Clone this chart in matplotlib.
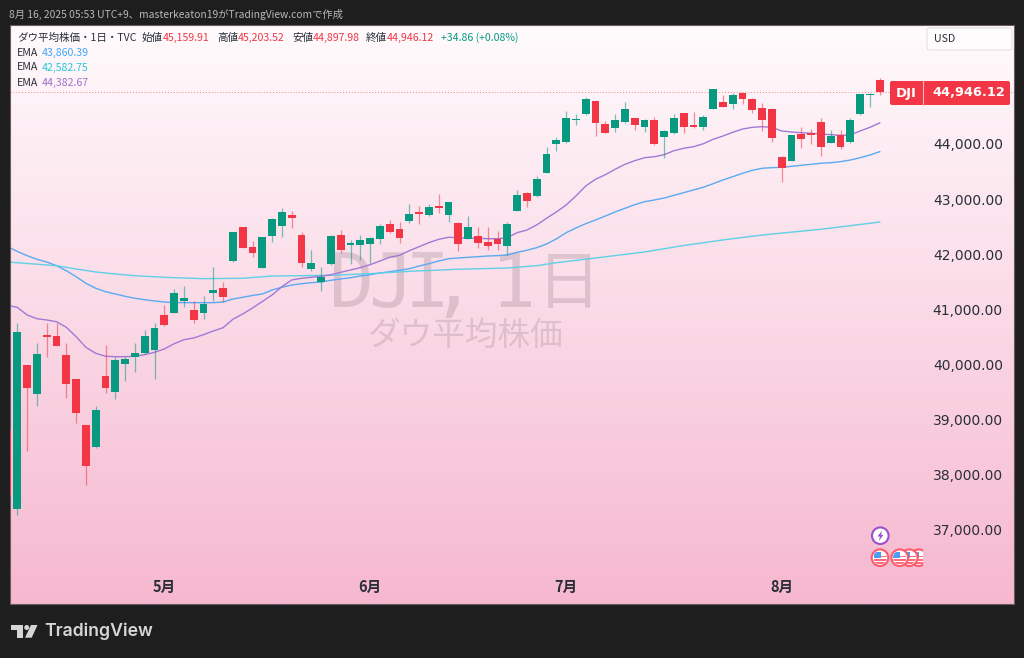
import numpy as np
import matplotlib
matplotlib.use('Agg')
import matplotlib.pyplot as plt
from matplotlib.colors import LinearSegmentedColormap
from matplotlib.patches import Circle, Rectangle, Polygon, FancyBboxPatch

plt.rcParams['font.family'] = ['Noto Sans CJK JP', 'DejaVu Sans']

# daily candles, DJI, Apr 8 - Aug 15 2025
opens = [38806,37366,39987,39460,40526,40508,40163,39727,38892,38492,
         39787,39502,40010,40137,40199,40259,40895,40931,41143,40985,
         40931,41289,41385,41870,42493,42135,41754,42329,42511,42711,
         42342,41735,41494,41815,42342,42166,42166,42184,42280,42553,
         42462,42602,42760,42716,42869,42705,42560,42280,42335,42220,
         42275,42153,42783,43110,43056,43479,43995,44031,44430,44545,
         44786,44363,44296,44405,44467,44314,44436,44122,44194,44558,
         44345,44303,44636,44757,44726,44926,44812,44659,44641,43769,
         43697,44182,44194,44405,44018,44163,44031,44545,44884,45159.91]
highs = [38897,40755,39995,40381,40755,40755,40392,39735,38900,39248,
         40355,40137,40137,40392,40617,40755,41076,41361,41421,41143,
         41245,41761,41488,42410,42500,42238,42320,42650,42832,42778,
         42407,42075,41772,42340,42433,42257,42347,42317,42547,42620,
         42584,42910,42880,42910,43097,42950,42578,42687,42498,42498,
         42420,42589,43165,43120,43413,43951,44122,44599,44545,44859,
         44800,44423,44545,44757,44475,44449,44485,44254,44545,44570,
         44576,44527,45000,44890,44921,44932,44830,44739,44650,43782,
         44165,44303,44267,44478,44254,44254,44467,44915,44921,45203.52]
lows = [37590,37263,38425,39248,40137,40330,39382,38928,37807,38485,
        39473,39364,39702,39854,40190,39732,40695,40925,41045,40749,
        40817,41154,41136,41860,42105,41942,41745,42215,42317,42469,
        41772,41699,41336,41805,42015,41815,41893,41834,42179,42390,
        42197,42565,42553,42698,42742,42584,42062,42270,42106,42075,
        42075,41984,42775,42861,43045,43470,43873,44013,44340,44532,
        44151,44194,44212,44376,44254,44223,43985,43751,44182,44205,
        44296,44254,44630,44666,44641,44726,44558,44242,44031,43315,
        43690,43922,44000,43782,44013,43904,44025,44535,44677,44897.98]
closes = [37626,40591,39564,40186,40490,40337,39642,39110,38147,39169,
          39574,40072,40096,40199,40508,40653,40718,41294,41198,40798,
          41094,41349,41222,42393,42111,42026,42306,42638,42771,42651,
          41834,41839,41585,42329,42075,42202,42251,42288,42505,42396,
          42288,42734,42734,42850,42832,42941,42184,42493,42197,42153,
          42184,42553,43065,42959,43370,43813,44078,44478,44459,44812,
          44376,44205,44436,44630,44345,44436,43995,44236,44467,44314,
          44303,44490,44993,44677,44890,44817,44612,44436,44109,43570,
          44158,44085,44170,43940,44151,43951,44436,44903,44903,44946.12]

ema_blue = [42139,42048,41972,41906,41857,41790,41699,41590,41470,41380,
            41318,41276,41234,41198,41172,41149,41131,41118,41120,41118,
            41118,41118,41131,41185,41216,41249,41276,41349,41398,41439,
            41463,41481,41494,41525,41548,41572,41603,41626,41657,41681,
            41706,41735,41784,41826,41875,41917,41930,41942,41953,41966,
            41972,41984,42033,42070,42117,42184,42275,42389,42475,42553,
            42620,42692,42765,42832,42898,42952,42983,43019,43068,43116,
            43165,43214,43279,43346,43406,43468,43522,43559,43570,43577,
            43595,43613,43631,43650,43660,43679,43709,43751,43800,43860.39]
ema_purple = [41067,41034,40895,40827,40804,40773,40671,40501,40308,40199,
              40145,40137,40137,40145,40174,40217,40277,40373,40446,40477,
              40537,40604,40664,40817,40913,41022,41140,41258,41409,41530,
              41561,41579,41597,41626,41670,41712,41754,41808,41875,41942,
              41979,42062,42135,42208,42269,42306,42298,42288,42288,42280,
              42280,42298,42389,42438,42529,42651,42765,42892,43056,43237,
              43359,43442,43541,43631,43697,43751,43769,43806,43878,43922,
              43951,44005,44085,44145,44212,44272,44303,44314,44303,44236,
              44218,44205,44194,44182,44169,44158,44163,44236,44303,44382.67]
cyan_idx = [0,5,7,9,11,13,16,20,24,27,30,33,37,41,46,51,54,56,60,65,69,73,77,83,89]
ema_cyan = [41857,41790,41730,41676,41639,41608,41579,41554,41561,41603,41608,41616,41645,
            41688,41725,41748,41790,41844,41930,42039,42157,42257,42347,42451,42582.75]

month_idx = [16, 37, 57, 79]
month_labels = ['5月', '6月', '7月', '8月']
price_ticks = [37000, 38000, 39000, 40000, 41000, 42000, 43000, 44000]

UP = '#089981'
DOWN = '#F23645'
DARK = '#1e1e1e'
TXT = '#2a2e39'

fig = plt.figure(figsize=(10.24, 6.58), dpi=100, facecolor=DARK)
ax = fig.add_axes([10/1024, 1-604/658, 1004/1024, 579/658], zorder=1)

pink = LinearSegmentedColormap.from_list('bg', ['#fffbfd', '#f6b8cf'])
ax.imshow(np.linspace(0, 1, 256).reshape(-1, 1), cmap=pink, aspect='auto',
          extent=(0, 1, 0, 1), transform=ax.transAxes, zorder=0)
ax.set_xlim(0.255, 102.7)
ax.set_ylim(35646, 46161)

# overlay in pixel coordinates for the TradingView chrome
ov = fig.add_axes([0, 0, 1, 1], zorder=2)
ov.set_xlim(0, 1024)
ov.set_ylim(658, 0)
ov.axis('off')
ov.patch.set_alpha(0)

# watermark sits under the candles, glyphs placed one by one because the original font is narrow
for ch, xp, yp, fs in [('D', 352, 307, 54), ('J', 392, 307, 54), ('I', 427, 307, 54), (',', 453, 307, 54),
                       ('1', 514, 307, 54), ('日', 569, 303, 46)]:
    ax.text(xp, yp, ch, transform=ov.transData, family=['DejaVu Sans Mono', 'Noto Sans CJK JP'],
            fontsize=fs, color='#5a4650', alpha=0.18, ha='center', va='baseline', zorder=1)
ax.text(465, 336, 'ダウ平均株価', transform=ov.transData, fontsize=23.5, color='#5a4650',
        alpha=0.17, ha='center', va='center', zorder=1)

x = np.arange(len(opens))
colors = [UP if c >= o else DOWN for o, c in zip(opens, closes)]
bottoms = np.minimum(opens, closes)
heights = np.abs(np.array(closes) - np.array(opens))

ax.plot(x, ema_blue, color='#5aaaf2', lw=1.0, zorder=2)
ax.plot(cyan_idx, ema_cyan, color='#5fd0e6', lw=1.0, zorder=2)
ax.plot(x, ema_purple, color='#a07ad6', lw=1.0, zorder=2)

ax.vlines(x, lows, highs, colors=colors, lw=0.9, alpha=0.55, zorder=3)
ax.bar(x, heights, bottom=bottoms, width=0.8, color=colors, lw=0, zorder=4)

ax.axhline(closes[-1], color=DOWN, lw=0.7, ls=(0, (1, 2)), alpha=0.6, zorder=2)

ax.yaxis.tick_right()
ax.set_yticks(price_ticks)
ax.set_yticklabels([f'{p:,.2f}' for p in price_ticks], family='DejaVu Sans', fontsize=10, color=TXT, ha='right')
ax.set_xticks(month_idx)
ax.set_xticklabels(month_labels, fontsize=10.5, fontweight='bold', color=TXT)
ax.tick_params(axis='y', length=0, pad=-8)
ax.tick_params(axis='x', length=0, pad=-18)
for s in ax.spines.values():
    s.set_color('#6a5a62')
    s.set_linewidth(0.8)

# header
ov.text(9, 14, '8月 16, 2025 05:53 UTC+9、masterkeaton19がTradingView.comで作成',
        fontsize=7.4, color='#b8b8b8', va='center')

# legend rows
LEG = 7.6
row1 = [(17, 'ダウ平均株価・1日・TVC', TXT), (142, '始値', TXT), (163, '45,159.91', DOWN),
        (217, '高値', TXT), (238, '45,203.52', DOWN), (292, '安値', TXT), (313, '44,897.98', DOWN),
        (366, '終値', TXT), (387, '44,946.12', DOWN), (441, '+34.86 (+0.08%)', UP)]
for xp, s, c in row1:
    ov.text(xp, 38, s, fontsize=LEG, color=c, va='center')
for yp, s, c in [(53, '43,860.39', '#42a5f5'), (67.5, '42,582.75', '#26c6da'), (82.5, '44,382.67', '#9e6fd0')]:
    ov.text(17, yp, 'EMA', fontsize=LEG, color=TXT, va='center')
    ov.text(42, yp, s, fontsize=LEG, color=c, va='center')

# currency box
ov.add_patch(FancyBboxPatch((927, 28), 85, 22, boxstyle='round,pad=0,rounding_size=2',
                            fc='#fffcfd', ec='#e4e0e2', lw=0.8))
ov.text(934, 39, 'USD', fontsize=LEG, color=TXT, va='center')

# last price tag
ov.add_patch(FancyBboxPatch((890, 81), 120, 24, boxstyle='round,pad=0,rounding_size=2', fc=DOWN, ec='none'))
ov.plot([923, 923], [81, 105], color='#ffb3bb', lw=0.8)
ov.text(906, 93, 'DJI', family='DejaVu Sans', fontsize=9.5, fontweight='bold', color='white', ha='center', va='center')
ov.text(969, 93, '44,946.12', family='DejaVu Sans', fontsize=9.3, fontweight='bold', color='white', ha='center', va='center')

# event markers
ov.add_patch(Circle((880.3, 535.7), 8.3, fc='white', ec='#9c4fd0', lw=1.5))
ov.add_patch(Polygon([(882, 530.5), (877.5, 536.5), (880, 536.5), (878.8, 541), (883.5, 534.8), (881, 534.8)],
                     fc='#9c4fd0', ec='none'))
clip = Rectangle((860, 545), 62.7, 25, transform=ov.transData)
for cx in [918.7, 909.3, 899.7, 880]:
    base = Circle((cx, 557.7), 8.3, fc='white', ec='#ff5a6a', lw=1.5)
    ov.add_patch(base)
    base.set_clip_path(clip)
    parts = [Rectangle((cx-6.5, 559), 13, 1.7, fc='#ff6b78', ec='none'),
             Rectangle((cx-6.5, 562.3), 13, 1.7, fc='#ff6b78', ec='none'),
             Rectangle((cx-6.5, 555.5), 13, 1.7, fc='#ff6b78', ec='none'),
             Rectangle((cx-6.5, 551.5), 7, 6.5, fc='#4d9df0', ec='none')]
    for p in parts:
        ov.add_patch(p)
        p.set_clip_path(Circle((cx, 557.7), 6.8, transform=ov.transData))
        if cx > 915:
            p.set_clip_path(clip)

# logo
LOGO = '#d6d6d6'
ov.add_patch(Polygon([(11, 625), (22.7, 625), (22.7, 637.7), (16.7, 637.7), (16.7, 630), (11, 630)], fc=LOGO, ec='none'))
ov.add_patch(Circle((26.7, 627.5), 2.5, fc=LOGO, ec='none'))
ov.add_patch(Polygon([(31, 625), (37.5, 625), (31.7, 637.7), (25, 637.7)], fc=LOGO, ec='none'))
ov.text(44, 631.5, 'TradingView', family='Inter', fontsize=12.7, fontweight='semibold', color=LOGO, va='center')

fig.savefig('out.png', dpi=100, facecolor=DARK)
